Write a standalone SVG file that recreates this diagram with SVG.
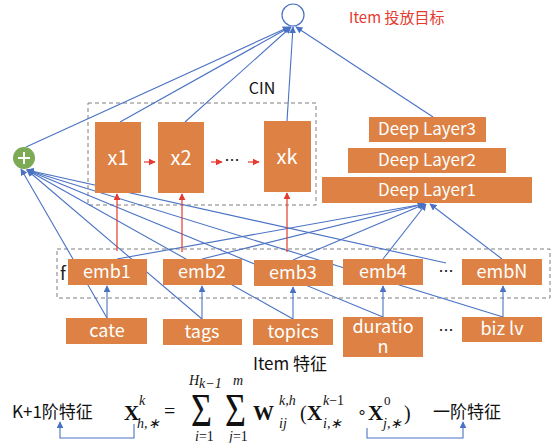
<svg xmlns="http://www.w3.org/2000/svg" width="552" height="443" viewBox="0 0 552 443">
<defs>
<marker id="ab" viewBox="0 0 10 10" refX="9" refY="5" markerWidth="7" markerHeight="7" markerUnits="userSpaceOnUse" orient="auto"><path d="M0,0 L10,5 L0,10 z" fill="#4A72C4"/></marker>
<marker id="ar" viewBox="0 0 10 10" refX="9" refY="5" markerWidth="7" markerHeight="7" markerUnits="userSpaceOnUse" orient="auto"><path d="M0,0 L10,5 L0,10 z" fill="#E53A2E"/></marker>
<style>
.box{fill:#DD8244}
.bt{fill:#fff;font-family:"Noto Sans CJK SC","Noto Sans",sans-serif;font-size:18px;text-anchor:middle}
.dl{font-size:17px}
.xb{font-size:20px}
.dash{fill:none;stroke:#7F7F7F;stroke-width:1;stroke-dasharray:4,3}
.bl{stroke:#4A72C4;stroke-width:1.1;fill:none;marker-end:url(#ab)}
.rl{stroke:#E53A2E;stroke-width:1.2;fill:none;marker-end:url(#ar)}
.lab{font-family:"Noto Sans CJK SC","Noto Sans",sans-serif;font-size:15px;fill:#111}
.big{font-size:17px}
.m{font-family:"Liberation Serif",serif;fill:#111}
.mb{font-family:"Liberation Serif",serif;font-weight:bold;font-size:21px;fill:#111}
.mi{font-family:"Liberation Serif",serif;font-style:italic;font-size:14px;fill:#111}
</style>
</defs>
<rect width="552" height="443" fill="#fff"/>

<g id="target">
<circle cx="293" cy="15" r="11" fill="#fff" stroke="#4A72C4" stroke-width="1.2"/>
<text x="349" y="23" font-family="Noto Sans CJK SC,sans-serif" font-size="15" fill="#E53A2E">Item 投放目标</text>
</g>

<rect class="dash" x="88" y="103" width="228" height="102"/>
<text class="lab" x="262" y="94" text-anchor="middle" style="font-size:16px">CIN</text>
<rect class="dash" x="57" y="249" width="493" height="49"/>
<text x="60" y="280" font-family="Noto Sans CJK SC,sans-serif" font-size="18" fill="#222">f</text>

<g id="connectors">
<line class="bl" x1="26" y1="147" x2="289" y2="27"/>
<line class="bl" x1="120" y1="122" x2="290" y2="27"/>
<line class="bl" x1="185" y1="122" x2="291" y2="27"/>
<line class="bl" x1="287" y1="121" x2="293" y2="27"/>
<line class="bl" x1="433" y1="117" x2="296" y2="27"/>
<line class="bl" x1="107" y1="318" x2="21" y2="169"/>
<line class="bl" x1="202" y1="319" x2="27" y2="170"/>
<line class="bl" x1="293" y1="319" x2="27" y2="170"/>
<line class="bl" x1="383" y1="317" x2="27" y2="170"/>
<line class="bl" x1="503" y1="317" x2="27" y2="170"/>
<line class="bl" x1="446" y1="263" x2="27" y2="170"/>
<line class="bl" x1="117" y1="259" x2="424" y2="204"/>
<line class="bl" x1="202" y1="259" x2="424" y2="204"/>
<line class="bl" x1="293" y1="260" x2="425" y2="204"/>
<line class="bl" x1="383" y1="259" x2="426" y2="204"/>
<line class="bl" x1="502" y1="259" x2="430" y2="204"/>
<line class="bl" x1="107" y1="318" x2="107" y2="286"/>
<line class="bl" x1="202" y1="319" x2="202" y2="286"/>
<line class="bl" x1="293" y1="319" x2="293" y2="287"/>
<line class="bl" x1="383" y1="317" x2="383" y2="286"/>
<line class="bl" x1="503" y1="317" x2="503" y2="286"/>
<line class="rl" x1="117" y1="251" x2="117" y2="194"/>
<line class="rl" x1="182" y1="252" x2="182" y2="194"/>
<line class="rl" x1="287" y1="252" x2="287" y2="193"/>
<line class="rl" x1="144" y1="162" x2="155" y2="162"/>
<line class="rl" x1="211" y1="162" x2="222" y2="162"/>
<line class="rl" x1="248" y1="162" x2="259" y2="162"/>
<polyline class="bl" points="134,424 134,438 60,438 60,422"/>
<polyline class="bl" points="367,428 367,438 463,438 463,422"/>
</g>

<g id="plus">
<circle cx="24" cy="158" r="11" fill="#7DAA55"/>
<path d="M18,158 H30 M24,152 V164" stroke="#fff" stroke-width="2"/>
</g>

<g id="x1"><rect class="box" x="95" y="122" width="46" height="71"/><text class="bt xb" x="118" y="165">x1</text></g>
<g id="x2"><rect class="box" x="158" y="122" width="46" height="71"/><text class="bt xb" x="181" y="165">x2</text></g>
<text class="lab" x="232" y="166" text-anchor="middle">…</text>
<g id="xk"><rect class="box" x="264" y="121" width="47" height="71"/><text class="bt xb" x="287" y="164">xk</text></g>

<g id="dl3"><rect class="box" x="369" y="117" width="117" height="25"/><text class="bt dl" x="427" y="135">Deep Layer3</text></g>
<g id="dl2"><rect class="box" x="348" y="148" width="158" height="25"/><text class="bt dl" x="427" y="166">Deep Layer2</text></g>
<g id="dl1"><rect class="box" x="322" y="177" width="210" height="26"/><text class="bt dl" x="427" y="196">Deep Layer1</text></g>

<g id="emb1"><rect class="box" x="68" y="259" width="79" height="26"/><text class="bt" x="107" y="278">emb1</text></g>
<g id="emb2"><rect class="box" x="163" y="259" width="79" height="26"/><text class="bt" x="202" y="278">emb2</text></g>
<g id="emb3"><rect class="box" x="254" y="260" width="79" height="26"/><text class="bt" x="293" y="279">emb3</text></g>
<g id="emb4"><rect class="box" x="343" y="259" width="80" height="26"/><text class="bt" x="383" y="278">emb4</text></g>
<text class="lab" x="446" y="277" text-anchor="middle">…</text>
<g id="embN"><rect class="box" x="462" y="259" width="80" height="26"/><text class="bt" x="502" y="278">embN</text></g>

<g id="cate"><rect class="box" x="66" y="318" width="81" height="26"/><text class="bt" x="107" y="337">cate</text></g>
<g id="tags"><rect class="box" x="163" y="319" width="79" height="26"/><text class="bt" x="202" y="338">tags</text></g>
<g id="topics"><rect class="box" x="253" y="319" width="80" height="26"/><text class="bt" x="293" y="338">topics</text></g>
<g id="duration"><rect class="box" x="343" y="317" width="80" height="40"/><text class="bt" x="383" y="333">duratio</text><text class="bt" x="383" y="353">n</text></g>
<text class="lab" x="446" y="336" text-anchor="middle">…</text>
<g id="bizlv"><rect class="box" x="462" y="317" width="80" height="25"/><text class="bt" x="502" y="335">biz lv</text></g>

<text class="lab big" x="290" y="370" text-anchor="middle">Item 特征</text>

<g id="formula">
<text class="lab big" x="12" y="418">K+1阶特征</text>
<text class="mb" x="124" y="420">X</text>
<text class="mi" x="139" y="405">k</text>
<text class="mi" x="137" y="428">h,∗</text>
<text class="m" x="164" y="418" font-size="20">=</text>
<text class="m" font-size="36" transform="translate(191,426) scale(1,1.3)">Σ</text>
<text class="mi" x="189" y="385">H</text>
<text class="mi" x="199" y="388" font-size="10">k−1</text>
<text class="mi" x="195" y="441" font-size="13">i<tspan font-style="normal">=1</tspan></text>
<text class="m" font-size="36" transform="translate(225,426) scale(1,1.3)">Σ</text>
<text class="mi" x="233" y="385">m</text>
<text class="mi" x="229" y="441" font-size="13">j<tspan font-style="normal">=1</tspan></text>
<text class="mb" x="253" y="420">W</text>
<text class="mi" x="279" y="405">k,h</text>
<text class="mi" x="279" y="428">ij</text>
<text class="m" x="300" y="420" font-size="20">(</text>
<text class="mb" x="307" y="420">X</text>
<text class="mi" x="323" y="405">k<tspan font-style="normal">−1</tspan></text>
<text class="mi" x="323" y="428">i,∗</text>
<text class="m" x="357" y="418" font-size="16">∘</text>
<text class="mb" x="368" y="420">X</text>
<text class="m" x="384" y="405" font-size="13">0</text>
<text class="mi" x="383" y="428">j,∗</text>
<text class="m" x="404" y="420" font-size="20">)</text>
<text class="lab big" x="433" y="418">一阶特征</text>
</g>
</svg>
